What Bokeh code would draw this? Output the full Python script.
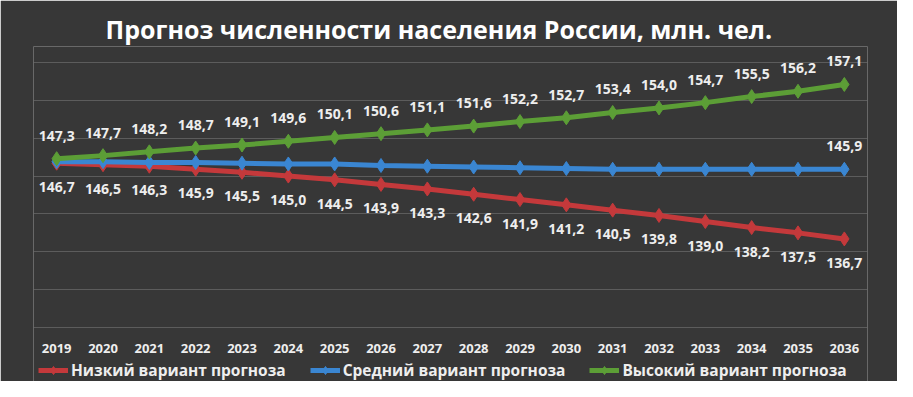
from bokeh.plotting import figure
from bokeh.models import (ColumnDataSource, LabelSet, Legend, LegendItem, FixedTicker, Range1d)
from bokeh.core.properties import value
from bokeh.embed import file_html
from bokeh.resources import INLINE

years = list(range(2019, 2037))
low = [146.7, 146.5, 146.3, 145.9, 145.5, 145.0, 144.5, 143.9, 143.3, 142.6,
       141.9, 141.2, 140.5, 139.8, 139.0, 138.2, 137.5, 136.7]
mid = [146.9, 146.9, 146.8, 146.8, 146.7, 146.6, 146.6, 146.4, 146.3, 146.2,
       146.1, 146.0, 145.9, 145.9, 145.9, 145.9, 145.9, 145.9]
high = [147.3, 147.7, 148.2, 148.7, 149.1, 149.6, 150.1, 150.6, 151.1, 151.6,
        152.2, 152.7, 153.4, 154.0, 154.7, 155.5, 156.2, 157.1]
names = ["Низкий вариант прогноза", "Средний вариант прогноза", "Высокий вариант прогноза"]
colors = ["#c4393b", "#3a86d2", "#5c9e36"]
grid_ticks = [125, 130, 135, 140, 145, 150, 155, 160]
year_labels = [str(y) for y in years]
title = "Прогноз численности населения России, млн. чел."

def fmt(v):
    return f"{v:.1f}".replace(".", ",")

BG = "#373737"
TXT = "#eeeeee"
FONT = "Open Sans"

# frame spans y=46..381 px; the grid (125..160) spans y=62..327 px
FT, GT, GB, FB = 46, 62, 327, 381
px_per_unit = (GB - GT) / (grid_ticks[-1] - grid_ticks[0])
y_top = grid_ticks[-1] + (GT - FT) / px_per_unit
y_bot = grid_ticks[0] - (FB - GB) / px_per_unit

p = figure(width=897, height=381, output_backend="svg", toolbar_location=None,
           x_range=Range1d(2018.5, 2036.5), y_range=Range1d(y_bot, y_top),
           min_border_left=33, min_border_right=30, min_border_top=FT, min_border_bottom=0,
           background_fill_color=BG, border_fill_color=BG, outline_line_color=None)

p.title.text = title
p.title.align = "left"
p.title.text_font = FONT
p.title.text_font_size = "25px"
p.title.text_font_style = "bold"
p.title.text_color = "#ffffff"
p.title.offset = 72
p.title.standoff = 2

p.xaxis.visible = False
p.yaxis.visible = False
p.xgrid.visible = False
p.ygrid.ticker = FixedTicker(ticks=grid_ticks)
p.ygrid.grid_line_color = "#8a8a8a"
p.ygrid.grid_line_alpha = 0.45
p.ygrid.grid_line_width = 1

items = []
for series, name, col in zip([low, mid, high], names, colors):
    src = ColumnDataSource(dict(x=years, y=series))
    r1 = p.line("x", "y", source=src, line_color=col, line_width=5)
    r2 = p.scatter("x", "y", source=src, marker="diamond", size=14, fill_color=col, line_color=col)
    items.append(LegendItem(label=name, renderers=[r1, r2]))

def labels(xs, ys, texts, offset, size="14px"):
    src = ColumnDataSource(dict(x=xs, y=ys, lbl=texts))
    ls = LabelSet(x="x", y="y", text="lbl", source=src, y_offset=offset,
                  text_align="center", text_baseline="middle", text_color=TXT,
                  text_font=value(FONT), text_font_style="bold", text_font_size=value(size))
    p.add_layout(ls)

labels(years, high, [fmt(v) for v in high], 23)
labels(years, low, [fmt(v) for v in low], -24)
labels(years[-1:], mid[-1:], [fmt(v) for v in mid[-1:]], 23)
# category (year) labels under the lowest grid line
labels(years, [grid_ticks[0]] * len(years), year_labels, -21, size="13px")

leg = Legend(items=items, orientation="horizontal", location=(5, 0),
             border_line_alpha=0, background_fill_alpha=0,
             label_text_color=TXT, label_text_font=FONT, label_text_font_size="15.5px",
             label_text_font_style="bold", label_height=20, glyph_height=20,
             glyph_width=30, label_standoff=3, spacing=24, padding=0, margin=0)
p.add_layout(leg)

open("out.html", "w").write(file_html(p, INLINE))
